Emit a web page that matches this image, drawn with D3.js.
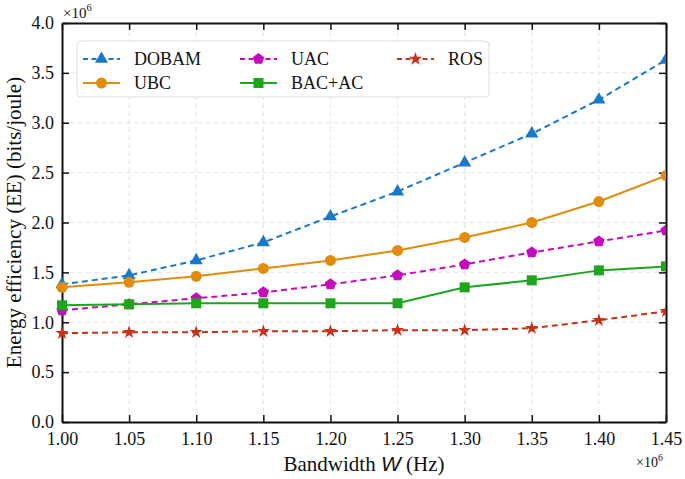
<!DOCTYPE html>
<html>
<head>
<meta charset="utf-8">
<script src="https://cdn.jsdelivr.net/npm/d3@7"></script>
<style>
  body { margin: 0; background: #fff; }
</style>
</head>
<body>
<svg id="chart" width="685" height="479"></svg>
<script>
// bandwidth in units of 1e6 Hz, EE in units of 1e6 bits/joule
const bandwidth = [1.00, 1.05, 1.10, 1.15, 1.20, 1.25, 1.30, 1.35, 1.40, 1.45];
const dobam = [1.38, 1.47, 1.62, 1.80, 2.06, 2.31, 2.60, 2.89, 3.23, 3.63];
const ubc = [1.35, 1.40, 1.46, 1.54, 1.62, 1.72, 1.85, 2.00, 2.21, 2.47];
const uac = [1.12, 1.18, 1.24, 1.30, 1.38, 1.47, 1.58, 1.70, 1.81, 1.92];
const bacac = [1.17, 1.18, 1.19, 1.19, 1.19, 1.19, 1.35, 1.42, 1.52, 1.56];
const ros = [0.89, 0.90, 0.90, 0.91, 0.91, 0.92, 0.92, 0.94, 1.02, 1.11];
const xTicks = [1.00, 1.05, 1.10, 1.15, 1.20, 1.25, 1.30, 1.35, 1.40, 1.45];
const yTicks = [0.0, 0.5, 1.0, 1.5, 2.0, 2.5, 3.0, 3.5, 4.0];

const series = [
    { name: "DOBAM", values: dobam, color: "#1a78c8", dash: "6,4", marker: "triangle" },
    { name: "UBC", values: ubc, color: "#e08c0c", dash: null, marker: "circle" },
    { name: "UAC", values: uac, color: "#c40cbc", dash: "6,4", marker: "pentagon" },
    { name: "BAC+AC", values: bacac, color: "#1ea51e", dash: null, marker: "square" },
    { name: "ROS", values: ros, color: "#c8321a", dash: "6,4", marker: "star" }
];

const margin = { left: 62, right: 19, top: 23, bottom: 57 };
const width = 685 - margin.left - margin.right;
const height = 479 - margin.top - margin.bottom;
const serif = "Liberation Serif";

const svg = d3.select("#chart");
const g = svg.append("g")
    .attr("transform", `translate(${margin.left}, ${margin.top})`);

const x = d3.scaleLinear().domain([1.00, 1.45]).range([0, width]);
const y = d3.scaleLinear().domain([0, 4]).range([height, 0]);

// grid
g.append("g").selectAll("line").data(xTicks.slice(1, -1)).join("line")
    .attr("x1", d => x(d)).attr("x2", d => x(d))
    .attr("y1", 0).attr("y2", height)
    .attr("stroke", "#e6e6e6").attr("stroke-width", 1).attr("stroke-dasharray", "5,3");
g.append("g").selectAll("line").data(yTicks.slice(1, -1)).join("line")
    .attr("y1", d => y(d)).attr("y2", d => y(d))
    .attr("x1", 0).attr("x2", width)
    .attr("stroke", "#e6e6e6").attr("stroke-width", 1).attr("stroke-dasharray", "5,3");

// axes with inward ticks
const fmtX = d3.format(".2f");
const fmtY = d3.format(".1f");
const axB = g.append("g").attr("transform", `translate(0, ${height})`)
    .call(d3.axisBottom(x).tickValues(xTicks).tickFormat(fmtX).tickSizeInner(-7).tickSizeOuter(0).tickPadding(10));
const axL = g.append("g")
    .call(d3.axisLeft(y).tickValues(yTicks).tickFormat(fmtY).tickSizeInner(-7).tickSizeOuter(0).tickPadding(8));
const axT = g.append("g")
    .call(d3.axisTop(x).tickValues(xTicks).tickFormat("").tickSizeInner(-7).tickSizeOuter(0));
const axR = g.append("g").attr("transform", `translate(${width}, 0)`)
    .call(d3.axisRight(y).tickValues(yTicks).tickFormat("").tickSizeInner(-7).tickSizeOuter(0));

[axB, axL, axT, axR].forEach(a => {
    a.attr("font-family", serif).attr("font-size", 18);
    a.select(".domain").attr("stroke", "#111").attr("stroke-width", 2);
    a.selectAll(".tick line").attr("stroke", "#111").attr("stroke-width", 1.5);
    a.selectAll("text").attr("fill", "#111");
});

// marker shapes
function markerPath(type) {
    if (type === "triangle") return d3.symbol(d3.symbolTriangle, 75)();
    if (type === "circle") return d3.symbol(d3.symbolCircle, 95)();
    if (type === "square") return d3.symbol(d3.symbolSquare, 100)();
    if (type === "star") return d3.symbol(d3.symbolStar, 55)();
    // pentagon
    const r = 6;
    const pts = d3.range(5).map(i => {
        const a = -Math.PI / 2 + i * 2 * Math.PI / 5;
        return [r * Math.cos(a), r * Math.sin(a)];
    });
    return "M" + pts.map(p => p.join(",")).join("L") + "Z";
}

const line = d3.line()
    .x((d, i) => x(bandwidth[i]))
    .y(d => y(d));

svg.append("defs").append("clipPath").attr("id", "plot-clip")
    .append("rect").attr("x", -8).attr("y", -8).attr("width", width + 8).attr("height", height + 16);

series.forEach(s => {
    const sg = g.append("g").attr("clip-path", "url(#plot-clip)");
    sg.append("path")
        .datum(s.values)
        .attr("fill", "none")
        .attr("stroke", s.color)
        .attr("stroke-width", 2)
        .attr("stroke-dasharray", s.dash)
        .attr("d", line);
    sg.selectAll("path.mk").data(s.values).join("path")
        .attr("class", "mk")
        .attr("transform", (d, i) => `translate(${x(bandwidth[i])}, ${y(d)})`)
        .attr("d", markerPath(s.marker))
        .attr("fill", s.color);
});

// legend
const legend = g.append("g").attr("transform", "translate(15, 18)");
legend.append("rect")
    .attr("width", 412).attr("height", 56).attr("rx", 4)
    .attr("fill", "#fff").attr("stroke", "#dcdcdc").attr("stroke-width", 1);
const cols = [0, 157, 314];
const legendPos = [[0, 0], [1, 0], [2, 0], [0, 1], [1, 1]];
const order = [0, 2, 4, 1, 3];
order.forEach((si, k) => {
    const s = series[si];
    const cx = cols[legendPos[k][0]] + 6;
    const cy = 18 + legendPos[k][1] * 24;
    const lg = legend.append("g").attr("transform", `translate(${cx}, ${cy})`);
    lg.append("line")
        .attr("x1", 0).attr("x2", 37).attr("y1", 0).attr("y2", 0)
        .attr("stroke", s.color).attr("stroke-width", 2)
        .attr("stroke-dasharray", s.dash ? "5,3.5" : null);
    lg.append("path")
        .attr("transform", "translate(18.5, 0)")
        .attr("d", markerPath(s.marker))
        .attr("fill", s.color);
    lg.append("text")
        .attr("x", 51).attr("y", 6)
        .attr("font-family", serif)
        .attr("font-size", "18px").attr("fill", "#111")
        .text(s.name);
});

// multipliers
const mult = (gx, gy, size) => {
    const t = svg.append("text").attr("x", gx).attr("y", gy)
        .attr("font-family", serif)
        .attr("font-size", size + "px").attr("fill", "#111");
    t.append("tspan").text("×10");
    t.append("tspan").attr("dy", -size * 0.45).attr("font-size", (size * 0.7) + "px").text("6");
};
mult(63, 18, 15);
mult(636, 467, 14);

// axis labels
const xl = svg.append("text")
    .attr("x", margin.left + width / 2).attr("y", 471)
    .attr("text-anchor", "middle")
    .attr("font-family", serif)
    .attr("font-size", "21px").attr("fill", "#111");
xl.append("tspan").text("Bandwidth ");
xl.append("tspan").attr("font-family", "Liberation Sans").attr("font-style", "italic").text("W");
xl.append("tspan").text(" (Hz)");

svg.append("text")
    .attr("transform", `translate(21, ${margin.top + height / 2}) rotate(-90)`)
    .attr("text-anchor", "middle")
    .attr("font-family", serif)
    .attr("font-size", "21px").attr("fill", "#111")
    .text("Energy efficiency (EE) (bits/joule)");
</script>
</body>
</html>
